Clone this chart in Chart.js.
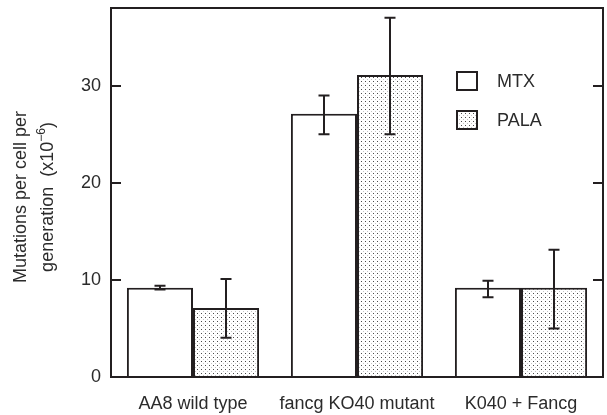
<!DOCTYPE html>
<html>
<head>
<meta charset="utf-8">
<script src="https://cdn.jsdelivr.net/npm/chart.js@4/dist/chart.umd.min.js"></script>
<style>
  html, body { margin: 0; padding: 0; background: #ffffff; }
  #wrap { width: 607px; height: 415px; }
</style>
</head>
<body>
<div id="wrap"><canvas id="c" width="607" height="415"></canvas></div>
<script>
const categories = ['AA8 wild type', 'fancg KO40 mutant', 'K040 + Fancg'];
const seriesNames = ['MTX', 'PALA'];
const mtxValues = [9.2, 27.1, 9.2];
const mtxLow    = [9.0, 25.0, 8.2];
const mtxHigh   = [9.4, 29.0, 9.9];
const palaValues = [7.1, 31.1, 9.2];
const palaLow    = [4.05, 25.0, 5.0];
const palaHigh   = [10.1, 37.0, 13.1];
const yTicks = [0, 10, 20, 30];
const yTitleLine1 = 'Mutations per cell per';
const yTitleLine2 = 'generation  (x10';
const yTitleSup = '\u22126';
const yTitleEnd = ')';

const INK = '#231f20';
const TEXT = '#2b2b2b';
const FONT = 'Liberation Sans, Arial, Helvetica, sans-serif';

function makeDots() {
  const p = document.createElement('canvas');
  p.width = 4; p.height = 4;
  const g = p.getContext('2d');
  g.fillStyle = '#ffffff'; g.fillRect(0, 0, 4, 4);
  g.fillStyle = '#4a4a4a'; g.fillRect(1, 1, 1, 1);
  g.fillStyle = '#c4c4c4'; g.fillRect(3, 3, 1, 1);
  return g.createPattern(p, 'repeat');
}
const dots = makeDots();

const errors = [
  { low: mtxLow, high: mtxHigh },
  { low: palaLow, high: palaHigh }
];

const framePlugin = {
  id: 'frame',
  afterDatasetsDraw(chart) {
    const { ctx, chartArea: a, scales } = chart;
    const y = scales.y;
    ctx.save();
    // error bars
    ctx.strokeStyle = INK;
    ctx.lineWidth = 2;
    errors.forEach((e, di) => {
      const meta = chart.getDatasetMeta(di);
      meta.data.forEach((bar, i) => {
        const x = Math.round(bar.x);
        const yl = y.getPixelForValue(e.low[i]);
        const yh = y.getPixelForValue(e.high[i]);
        const cap = 5.5;
        ctx.beginPath();
        ctx.moveTo(x, yl); ctx.lineTo(x, yh);
        ctx.moveTo(x - cap, yl); ctx.lineTo(x + cap, yl);
        ctx.moveTo(x - cap, yh); ctx.lineTo(x + cap, yh);
        ctx.stroke();
      });
    });
    // frame box
    ctx.lineWidth = 2;
    ctx.strokeRect(a.left, a.top, a.right - a.left, a.bottom - a.top);
    // inward ticks left and right
    ctx.beginPath();
    yTicks.forEach(v => {
      if (v === 0) return;
      const py = Math.round(y.getPixelForValue(v));
      ctx.moveTo(a.left, py); ctx.lineTo(a.left + 10, py);
      ctx.moveTo(a.right, py); ctx.lineTo(a.right - 10, py);
    });
    ctx.stroke();
    // legend
    const lx = 457, boxW = 20, boxH = 18;
    const rows = [{ cy: 81, fill: '#ffffff' }, { cy: 120, fill: dots }];
    ctx.font = '18px ' + FONT;
    ctx.textBaseline = 'middle';
    ctx.textAlign = 'left';
    rows.forEach((r, i) => {
      ctx.fillStyle = r.fill;
      ctx.fillRect(lx, r.cy - boxH / 2, boxW, boxH);
      ctx.strokeStyle = INK;
      ctx.lineWidth = 2;
      ctx.strokeRect(lx, r.cy - boxH / 2, boxW, boxH);
      ctx.fillStyle = TEXT;
      ctx.fillText(seriesNames[i], 497, r.cy + 1);
    });
    // y axis title (rotated, two lines, with superscript)
    const cy = 197;
    ctx.fillStyle = TEXT;
    ctx.textBaseline = 'alphabetic';
    ctx.font = '18px ' + FONT;
    ctx.save();
    ctx.translate(26, cy);
    ctx.rotate(-Math.PI / 2);
    ctx.textAlign = 'center';
    ctx.fillText(yTitleLine1, 0, 0);
    ctx.restore();
    ctx.save();
    ctx.translate(53, cy);
    ctx.rotate(-Math.PI / 2);
    ctx.textAlign = 'left';
    ctx.font = '18px ' + FONT;
    const w1 = ctx.measureText(yTitleLine2).width;
    const w3 = ctx.measureText(yTitleEnd).width;
    ctx.font = '12px ' + FONT;
    const w2 = ctx.measureText(yTitleSup).width;
    let sx = -(w1 + w2 + w3) / 2;
    ctx.font = '18px ' + FONT;
    ctx.fillText(yTitleLine2, sx, 0);
    sx += w1;
    ctx.font = '12px ' + FONT;
    ctx.fillText(yTitleSup, sx, -8);
    sx += w2;
    ctx.font = '18px ' + FONT;
    ctx.fillText(yTitleEnd, sx, 0);
    ctx.restore();
    ctx.restore();
  }
};

new Chart(document.getElementById('c'), {
  type: 'bar',
  data: {
    labels: categories,
    datasets: [
      { label: seriesNames[0], data: mtxValues, backgroundColor: '#ffffff', borderColor: INK, borderWidth: 2 },
      { label: seriesNames[1], data: palaValues, backgroundColor: dots, borderColor: INK, borderWidth: 2 }
    ]
  },
  options: {
    responsive: false,
    animation: false,
    devicePixelRatio: 1,
    layout: { padding: { top: 8, right: 4, left: 0, bottom: 0 } },
    datasets: { bar: { categoryPercentage: 0.806, barPercentage: 1.0 } },
    plugins: { legend: { display: false }, tooltip: { enabled: false } },
    scales: {
      x: {
        grid: { display: false, drawTicks: false },
        border: { display: false },
        ticks: { color: TEXT, font: { family: FONT, size: 18 }, padding: 16, maxRotation: 0, autoSkip: false },
        afterFit(s) { s.height = 38; s.paddingLeft = 0; s.paddingRight = 0; }
      },
      y: {
        min: 0, max: 38,
        grid: { display: false, drawTicks: false },
        border: { display: false },
        afterBuildTicks(s) { s.ticks = yTicks.map(v => ({ value: v })); },
        ticks: { color: TEXT, font: { family: FONT, size: 18 }, padding: 10 },
        title: { display: false },
        afterFit(s) { s.width = 111; s.paddingTop = 0; s.paddingBottom = 0; }
      }
    }
  },
  plugins: [framePlugin]
});
</script>
</body>
</html>
